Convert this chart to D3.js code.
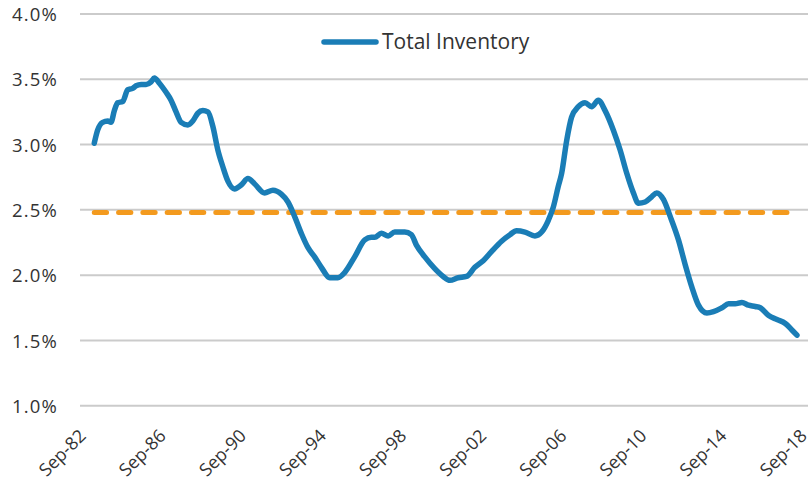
<!DOCTYPE html>
<html>
<head>
<meta charset="utf-8">
<script src="https://cdn.jsdelivr.net/npm/d3@7"></script>
<style>
  html, body { margin: 0; padding: 0; background: #fff; }
  svg { display: block; }
  .tick text { fill: #333; }
</style>
</head>
<body>
<svg id="chart" width="811" height="483"></svg>
<script>
// ---- Data ----
const months = [
  "1983-05","1983-07","1983-10","1984-01","1984-03","1984-05","1984-07","1984-10",
  "1985-01","1985-04","1985-06","1985-09","1985-12","1986-03","1986-05","1986-08",
  "1986-12","1987-03","1987-06","1987-09","1988-01","1988-04","1988-07","1988-10",
  "1989-01","1989-04","1989-07","1989-10","1990-01","1990-05","1990-09","1991-01",
  "1991-05","1991-11","1992-04","1992-09","1993-01","1993-05","1993-09","1994-01",
  "1994-05","1994-09","1995-02","1995-07","1995-11","1996-05","1996-11","1997-03",
  "1997-05","1997-09","1998-01","1998-05","1998-09","1998-11","1999-03","1999-06",
  "1999-11","2000-05","2000-10","2001-02","2001-07","2001-12","2002-05","2002-10",
  "2003-03","2003-09","2004-02","2004-06","2004-11","2005-05","2005-09","2006-01",
  "2006-04","2006-07","2006-09","2006-12","2007-03","2007-07","2007-11","2008-03",
  "2008-07","2008-11","2009-04","2009-08","2009-12","2010-04","2010-07","2010-11",
  "2011-03","2011-06","2011-10","2012-02","2012-07","2012-11","2013-03","2013-07",
  "2013-12","2014-04","2014-09","2015-01","2015-05","2015-09","2016-01","2016-05",
  "2016-08","2017-01","2017-06","2017-11","2018-03","2018-06"
];
const totalInventory = [
  3.01,3.11,3.17,3.18,3.17,3.26,3.32,3.33,
  3.42,3.43,3.45,3.46,3.46,3.48,3.51,3.47,
  3.40,3.34,3.25,3.17,3.15,3.18,3.24,3.26,
  3.25,3.14,2.96,2.83,2.72,2.66,2.69,2.74,
  2.70,2.63,2.65,2.62,2.56,2.45,2.32,2.21,
  2.14,2.06,1.98,1.98,2.02,2.14,2.27,2.29,
  2.29,2.32,2.30,2.33,2.33,2.33,2.31,2.23,
  2.14,2.05,1.99,1.96,1.98,1.99,2.06,2.11,
  2.18,2.26,2.31,2.34,2.33,2.30,2.33,2.42,
  2.52,2.68,2.78,3.03,3.21,3.29,3.32,3.29,
  3.34,3.26,3.11,2.96,2.78,2.63,2.55,2.56,
  2.60,2.63,2.58,2.45,2.27,2.08,1.91,1.77,
  1.71,1.72,1.75,1.78,1.78,1.79,1.77,1.76,
  1.75,1.69,1.66,1.63,1.58,1.54
];
const averageValue = 2.48;
const yTicks = [1.0, 1.5, 2.0, 2.5, 3.0, 3.5, 4.0];
const xTickLabels = ["Sep-82","Sep-86","Sep-90","Sep-94","Sep-98","Sep-02","Sep-06","Sep-10","Sep-14","Sep-18"];
const seriesName = "Total Inventory";

// ---- Chart ----
const svg = d3.select("#chart");
const parseMonth = d3.timeParse("%Y-%m");
const parseTick = d3.timeParse("%b-%y");
const data = months.map((m, i) => ({ date: parseMonth(m), value: totalInventory[i] }));
const tickDates = xTickLabels.map(parseTick);

const x = d3.scaleTime()
  .domain([tickDates[0], tickDates[tickDates.length - 1]])
  .range([81, 802]);
const y = d3.scaleLinear().domain([1.0, 4.0]).range([405.7, 14]);

const gridLeft = 80, gridRight = 808;

// gridlines
svg.append("g").selectAll("line").data(yTicks).join("line")
  .attr("x1", gridLeft).attr("x2", gridRight)
  .attr("y1", d => y(d)).attr("y2", d => y(d))
  .attr("stroke", "#cbcbcb").attr("stroke-width", 2);

// y axis labels
const yAxis = svg.append("g").attr("transform", "translate(58,0)")
  .call(d3.axisLeft(y).tickValues(yTicks).tickFormat(d => d.toFixed(1) + "%").tickSize(0).tickPadding(0));
yAxis.select(".domain").remove();
yAxis.selectAll("text")
  .attr("font-family", "'Open Sans', sans-serif")
  .attr("font-size", 18.5)
  .attr("letter-spacing", 1.2)
  .attr("dy", "0.36em")
  .attr("fill", "#333");

// x axis labels
const xAxis = svg.append("g")
  .call(d3.axisBottom(x).tickValues(tickDates).tickFormat((d, i) => xTickLabels[i]).tickSize(0).tickPadding(0));
xAxis.select(".domain").remove();
xAxis.selectAll(".tick").attr("transform", d => `translate(${x(d) + 6},437)`);
xAxis.selectAll("text")
  .attr("font-family", "'Open Sans', sans-serif")
  .attr("font-size", 18)
  .attr("fill", "#333")
  .attr("text-anchor", "end")
  .attr("y", 0).attr("dy", 0)
  .attr("transform", "rotate(-45)");

// average dashed line
const first = data[0].date, last = data[data.length - 1].date;
svg.append("line")
  .attr("x1", x(first)).attr("x2", x(last))
  .attr("y1", y(averageValue)).attr("y2", y(averageValue))
  .attr("stroke", "#f39a1e").attr("stroke-width", 5)
  .attr("stroke-linecap", "round")
  .attr("stroke-dasharray", "12.3,12");

// main line
const line = d3.line().x(d => x(d.date)).y(d => y(d.value)).curve(d3.curveMonotoneX);
svg.append("path").datum(data)
  .attr("d", line)
  .attr("fill", "none")
  .attr("stroke", "#1a7db6")
  .attr("stroke-width", 5.5)
  .attr("stroke-linejoin", "round")
  .attr("stroke-linecap", "round");

// legend
const legend = svg.append("g");
legend.append("line")
  .attr("x1", 324).attr("x2", 376).attr("y1", 42).attr("y2", 42)
  .attr("stroke", "#1a7db6").attr("stroke-width", 5.5).attr("stroke-linecap", "round");
legend.append("text")
  .attr("x", 382).attr("y", 48.5)
  .attr("font-family", "'Open Sans', sans-serif")
  .attr("font-size", 21)
  .attr("fill", "#333")
  .text(seriesName);
</script>
</body>
</html>
